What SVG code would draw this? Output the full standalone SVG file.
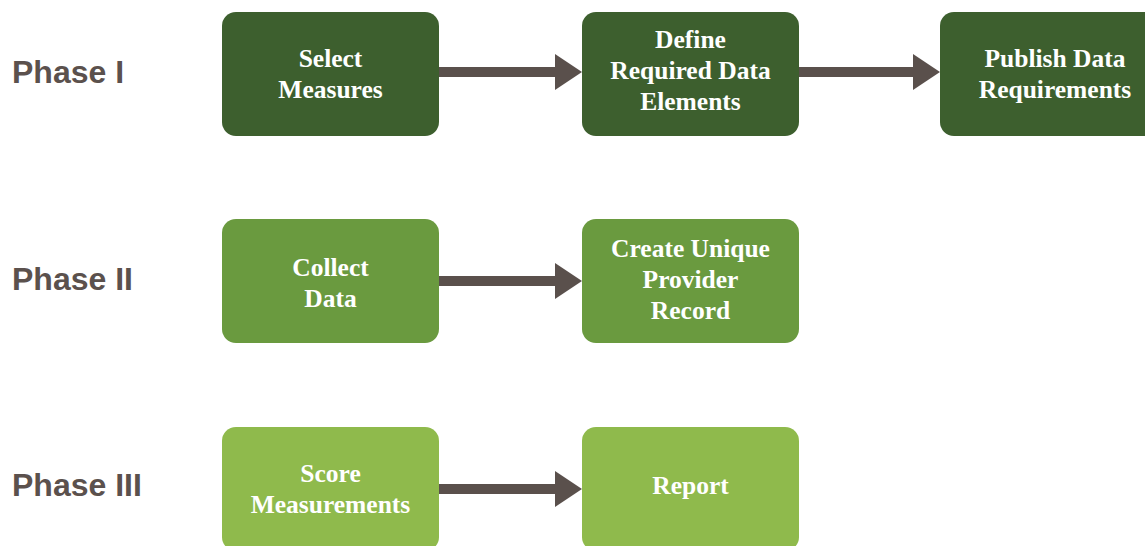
<svg xmlns="http://www.w3.org/2000/svg" width="1145" height="546" viewBox="0 0 1145 546">
  <defs>
    <style>
      .phase { font-family: "Liberation Sans", Arial, sans-serif; font-weight: bold; font-size: 32px; fill: #5b514d; }
      .box-text { font-family: "Liberation Serif", "Times New Roman", serif; font-weight: bold; font-size: 25.5px; fill: #ffffff; text-anchor: middle; }
      .p1 { fill: #3d5f2e; }
      .p2 { fill: #6a9a3f; }
      .p3 { fill: #8fba4c; }
      .shaft { fill: #5a504c; }
    </style>
  </defs>
  <rect width="1145" height="546" fill="#ffffff"/>

  <!-- phase labels -->
  <g id="labels">
    <text class="phase" x="12" y="83">Phase I</text>
    <text class="phase" x="12" y="290">Phase II</text>
    <text class="phase" x="12" y="496">Phase III</text>
  </g>

  <!-- phase I -->
  <g id="select-measures">
    <rect class="p1" x="222" y="12" width="217" height="124" rx="14"/>
    <text class="box-text" x="330.5" y="67">Select</text>
    <text class="box-text" x="330.5" y="98">Measures</text>
  </g>
  <g id="define-elements">
    <rect class="p1" x="582" y="12" width="217" height="124" rx="14"/>
    <text class="box-text" x="690.5" y="48">Define</text>
    <text class="box-text" x="690.5" y="79">Required Data</text>
    <text class="box-text" x="690.5" y="110">Elements</text>
  </g>
  <g id="publish-requirements">
    <rect class="p1" x="940" y="12" width="230" height="124" rx="14"/>
    <text class="box-text" x="1055" y="67">Publish Data</text>
    <text class="box-text" x="1055" y="98">Requirements</text>
  </g>

  <!-- phase II -->
  <g id="collect-data">
    <rect class="p2" x="222" y="219" width="217" height="124" rx="14"/>
    <text class="box-text" x="330.5" y="276">Collect</text>
    <text class="box-text" x="330.5" y="307">Data</text>
  </g>
  <g id="provider-record">
    <rect class="p2" x="582" y="219" width="217" height="124" rx="14"/>
    <text class="box-text" x="690.5" y="257">Create Unique</text>
    <text class="box-text" x="690.5" y="288">Provider</text>
    <text class="box-text" x="690.5" y="319">Record</text>
  </g>

  <!-- phase III -->
  <g id="score-measurements">
    <rect class="p3" x="222" y="427" width="217" height="124" rx="14"/>
    <text class="box-text" x="330.5" y="482">Score</text>
    <text class="box-text" x="330.5" y="513">Measurements</text>
  </g>
  <g id="report">
    <rect class="p3" x="582" y="427" width="217" height="124" rx="14"/>
    <text class="box-text" x="690.5" y="494">Report</text>
  </g>

  <!-- connectors: thick shaft with a solid triangular head -->
  <g id="connectors" class="shaft">
    <polygon points="439,67 555,67 555,54 582,72 555,90 555,77 439,77"/>
    <polygon points="799,67 913,67 913,54 940,72 913,90 913,77 799,77"/>
    <polygon points="439,276 555,276 555,263 582,281 555,299 555,286 439,286"/>
    <polygon points="439,484 555,484 555,471 582,489 555,507 555,494 439,494"/>
  </g>
</svg>
